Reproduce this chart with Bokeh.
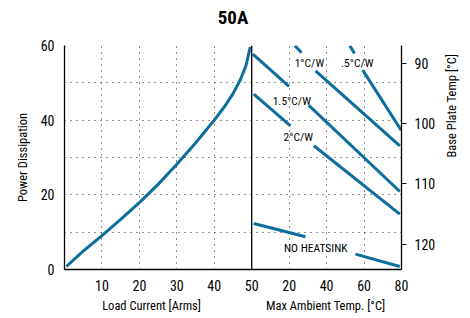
import math
from bokeh.plotting import figure
from bokeh.models import Range1d, LinearAxis, FixedTicker, Label, Span
from bokeh.embed import file_html
from bokeh.resources import INLINE

FONT = "Roboto Condensed, Roboto"
BLUE = "#0d6d9c"

# ---- data ----
title_text = "50A"
x_left_label = "Load Current [Arms]"
x_right_label = "Max Ambient Temp. [°C]"
y_left_label = "Power Dissipation"
y_right_label = "Base Plate Temp [°C]"

load_current = [0.5, 5, 10, 15, 20, 25, 30, 35, 40, 43, 45, 47, 48.5, 49.6]
power_dissipation = [0.8, 4.9, 9.1, 13.4, 17.9, 22.8, 28.2, 33.9, 40.0, 44.0, 47.1, 50.9, 54.7, 59.6]

load_ticks = [10, 20, 30, 40, 50]
ambient_ticks = [20, 40, 60, 80]
power_ticks = [0, 20, 40, 60]
base_plate_ticks = [90, 100, 110, 120]

# heatsink lines: ambient temperature (°C) and power (W), split around their labels
hs_names = ["1°C/W", ".5°C/W", "1.5°C/W", "2°C/W", "NO HEATSINK"]
hs_temp = [
    [[23.0, 26.6], [34.1, 79.1]],
    [[52.4, 54.9], [59.3, 79.8]],
    [[0.6, 19.9], [30.5, 79.1]],
    [[1.1, 20.7], [33.2, 79.1]],
    [[1.1, 28.7], [55.4, 79.1]],
]
hs_power = [
    [[60.0, 58.05], [53.23, 33.14]],
    [[59.93, 57.86], [53.41, 37.29]],
    [[57.70, 49.08], [43.96, 20.89]],
    [[46.99, 38.49], [33.14, 14.84]],
    [[12.32, 8.76], [4.13, 0.80]],
]
hs_label_temp = [30.8, 56.4, 21.4, 24.9, 34.2]
hs_label_power = [55.24, 55.24, 45.19, 35.36, 5.76]


def amb_to_x(t):
    # the ambient scale (0..80 °C) occupies the right part of the shared x axis
    return 50 + t / 2


# ---- figure ----
p = figure(width=470, height=318, output_backend="svg", toolbar_location=None,
           x_range=Range1d(0, 90), y_range=Range1d(0, 60),
           min_border_left=64, min_border_right=69, min_border_top=45, min_border_bottom=49)
p.outline_line_color = None
p.background_fill_color = "white"
p.border_fill_color = "white"

p.extra_x_ranges = {"amb": Range1d(-100, 80)}
p.extra_y_ranges = {"bp": Range1d(124.22, 87.06)}

xaxis = p.below[0]
yaxis = p.left[0]


def style_axis(ax, size="14px"):
    ax.major_tick_in = 0
    ax.minor_tick_out = 0
    ax.minor_tick_in = 0
    ax.major_label_text_font = FONT
    ax.major_label_text_font_size = size
    ax.major_label_text_color = "black"
    ax.axis_line_color = "black"
    ax.axis_line_width = 1.3


# bottom axis: load current then ambient temperature
style_axis(xaxis)
xaxis.ticker = FixedTicker(ticks=load_ticks + [amb_to_x(t) for t in ambient_ticks])
xaxis.major_label_overrides = {amb_to_x(t): str(t) for t in ambient_ticks}
xaxis.major_tick_out = 0
xaxis.major_label_standoff = 10

# chart title, centred above the frame
title_pos = 45
tax = LinearAxis(ticker=FixedTicker(ticks=[title_pos]),
                 major_label_overrides={title_pos: title_text})
style_axis(tax, "19px")
tax.major_label_text_font_style = "bold"
tax.axis_line_color = None
tax.major_tick_out = 0
tax.major_label_standoff = 17
p.add_layout(tax, "above")

# axis titles of the two halves
xlab_pos = [23.25, 69.75]
xlab = LinearAxis(ticker=FixedTicker(ticks=xlab_pos),
                  major_label_overrides={xlab_pos[0]: x_left_label, xlab_pos[1]: x_right_label})
style_axis(xlab, "12.5px")
xlab.axis_line_color = None
xlab.major_tick_out = 0
xlab.major_label_standoff = 4
p.add_layout(xlab, "below")

style_axis(yaxis)
yaxis.ticker = FixedTicker(ticks=power_ticks)
yaxis.major_tick_out = 0
yaxis.major_label_standoff = 10
yaxis.axis_label = y_left_label
yaxis.axis_label_text_font = FONT
yaxis.axis_label_text_font_size = "12.5px"
yaxis.axis_label_text_font_style = "normal"
yaxis.axis_label_text_color = "black"
yaxis.axis_label_standoff = 8

raxis = LinearAxis(y_range_name="bp", ticker=FixedTicker(ticks=base_plate_ticks))
style_axis(raxis)
raxis.major_tick_out = 5
raxis.major_label_standoff = 8
raxis.axis_label = y_right_label
raxis.axis_label_text_font = FONT
raxis.axis_label_text_font_size = "12.5px"
raxis.axis_label_text_font_style = "normal"
raxis.axis_label_text_color = "black"
raxis.axis_label_standoff = 13
raxis.axis_label_orientation = math.pi / 2
p.add_layout(raxis, "right")

# grids (dotted)
p.xgrid.ticker = FixedTicker(ticks=load_ticks[:-1] + [amb_to_x(t) for t in ambient_ticks[:-1]])
p.ygrid.ticker = FixedTicker(ticks=[10, 20, 30, 40, 50, 60])
for g in (p.xgrid[0], p.ygrid[0]):
    g.grid_line_color = "#222222"
    g.grid_line_dash = "1 5"
    g.grid_line_width = 1

# divider between the two halves
p.add_layout(Span(location=50, dimension="height", line_color="black", line_width=1.3))

# power curve
p.line(load_current, power_dissipation, line_color=BLUE, line_width=3)

# heatsink lines
xs, ys = [], []
for tt, pp in zip(hs_temp, hs_power):
    for a, b in zip(tt, pp):
        xs.append(a)
        ys.append(b)
p.multi_line(xs, ys, x_range_name="amb", line_color=BLUE, line_width=3)

for name, t, pw in zip(hs_names, hs_label_temp, hs_label_power):
    p.add_layout(Label(x=t, y=pw, x_range_name="amb", text=name, text_font=FONT,
                       text_font_size="11.5px", text_align="center", text_baseline="middle",
                       text_color="black"))

open("out.html", "w").write(file_html(p, INLINE))
